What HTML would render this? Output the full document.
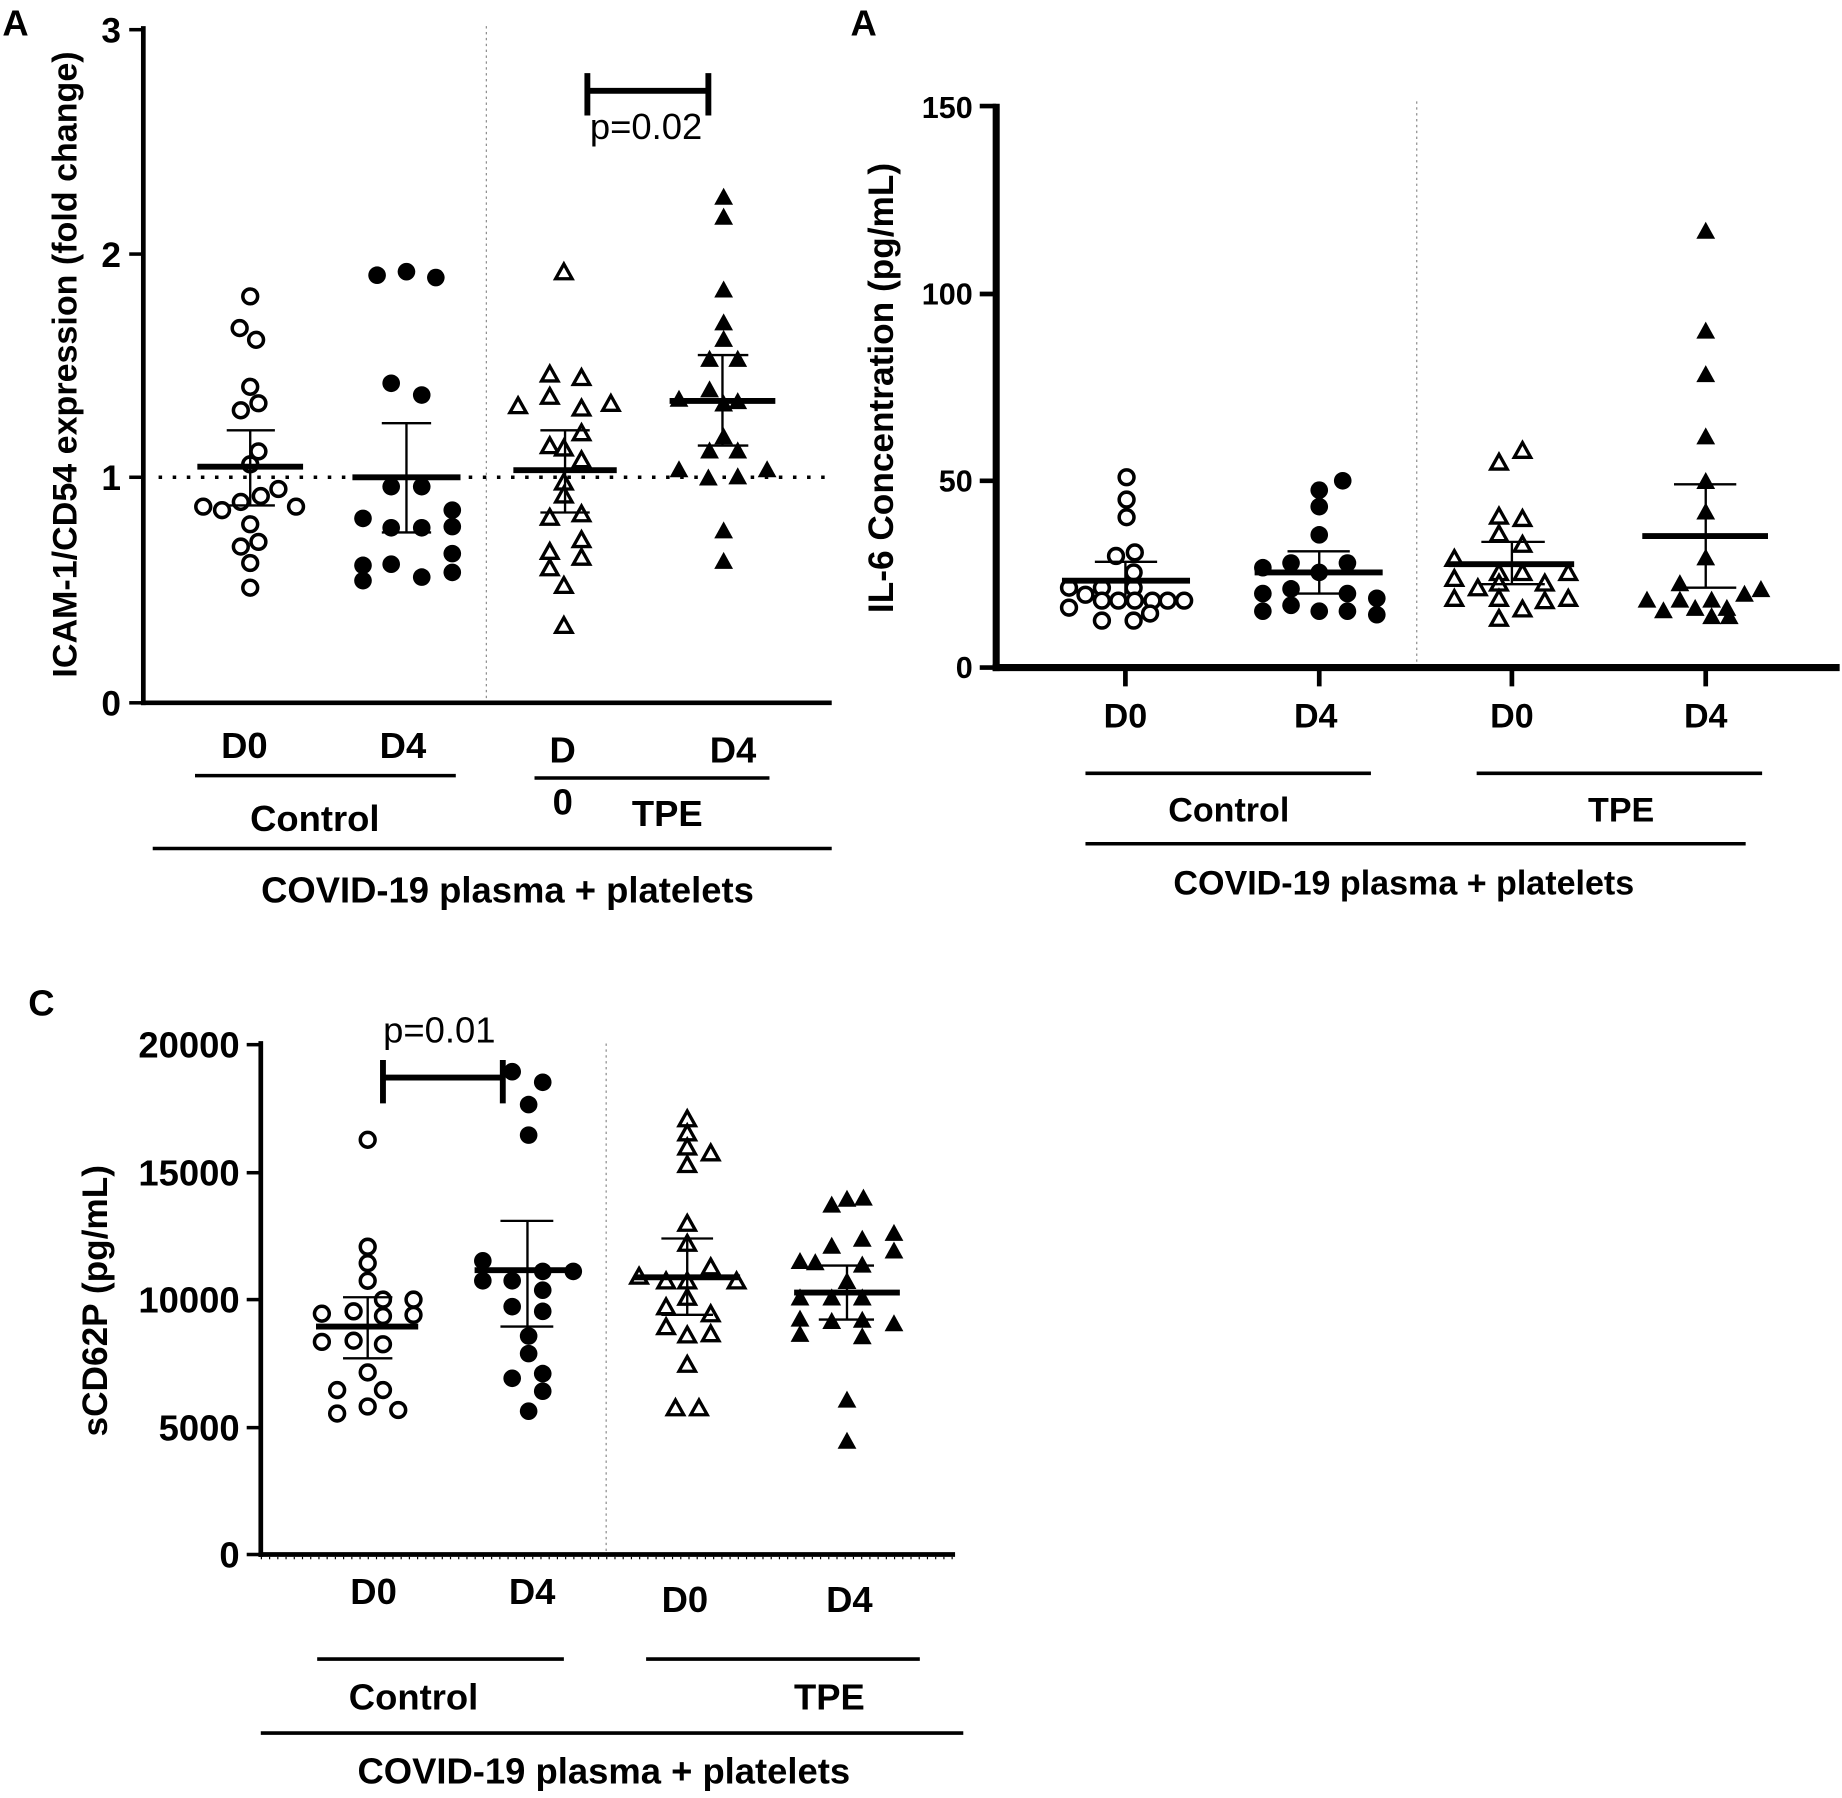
<!DOCTYPE html>
<html><head><meta charset="utf-8"><style>
html,body{margin:0;padding:0;background:#fff}
svg{display:block}
text{font-family:"Liberation Sans",sans-serif;font-weight:bold;fill:#000}
</style></head><body>
<svg width="1842" height="1798" viewBox="0 0 1568 1530" xmlns="http://www.w3.org/2000/svg">
<defs>
<g id="oc"><circle r="6.3" fill="#fff" stroke="#000" stroke-width="3"/></g>
<g id="fc"><circle r="7.5" fill="#000"/></g>
<g id="ot"><polygon points="0,-7.5 7,5 -7,5" fill="#fff" stroke="#000" stroke-width="2.8" stroke-linejoin="miter"/></g>
<g id="ft"><polygon points="0,-8.5 8,6 -8,6" fill="#000"/></g>
</defs>

<!-- ================= Panel A ================= -->
<text x="2" y="30" font-size="31">A</text>
<g stroke="#000" fill="none">
<line x1="122" y1="22" x2="122" y2="600" stroke-width="4"/>
<line x1="120" y1="598" x2="708" y2="598" stroke-width="4"/>
<line x1="110" y1="25" x2="122" y2="25" stroke-width="3"/>
<line x1="110" y1="216" x2="122" y2="216" stroke-width="3"/>
<line x1="110" y1="406" x2="122" y2="406" stroke-width="3"/>
<line x1="110" y1="598" x2="122" y2="598" stroke-width="3"/>
<line x1="414" y1="22" x2="414" y2="596" stroke-width="1" stroke="#888" stroke-dasharray="2,3"/>
<line x1="135" y1="406" x2="706" y2="406" stroke-width="3" stroke-dasharray="3,9"/>
</g>
<g font-size="30" text-anchor="end">
<text x="103" y="36">3</text><text x="103" y="227">2</text><text x="103" y="417">1</text><text x="103" y="609">0</text>
</g>
<text transform="translate(65,310) rotate(-90)" font-size="29" text-anchor="middle">ICAM-1/CD54 expression (fold change)</text>
<g stroke="#000" stroke-width="5">
<line x1="500" y1="77" x2="603" y2="77"/><line x1="500" y1="62" x2="500" y2="98"/><line x1="603" y1="62" x2="603" y2="98"/>
</g>
<text x="550" y="118" font-size="31" text-anchor="middle" style="font-weight:normal">p=0.02</text>
<g>
<use href="#oc" x="213" y="252"/><use href="#oc" x="204" y="279"/><use href="#oc" x="218" y="289"/><use href="#oc" x="213" y="329"/>
<use href="#oc" x="205" y="349"/><use href="#oc" x="220" y="343"/><use href="#oc" x="220" y="384"/><use href="#oc" x="213" y="395"/>
<use href="#oc" x="173" y="431"/><use href="#oc" x="189" y="434"/><use href="#oc" x="205" y="427"/><use href="#oc" x="222" y="422"/>
<use href="#oc" x="237" y="416"/><use href="#oc" x="252" y="431"/><use href="#oc" x="213" y="446"/><use href="#oc" x="205" y="465"/>
<use href="#oc" x="220" y="461"/><use href="#oc" x="213" y="479"/><use href="#oc" x="213" y="500"/>
<use href="#fc" x="321" y="234"/><use href="#fc" x="346" y="231"/><use href="#fc" x="371" y="236"/><use href="#fc" x="333" y="326"/>
<use href="#fc" x="359" y="336"/><use href="#fc" x="333" y="414"/><use href="#fc" x="359" y="414"/><use href="#fc" x="385" y="434"/>
<use href="#fc" x="309" y="441"/><use href="#fc" x="333" y="449"/><use href="#fc" x="359" y="449"/><use href="#fc" x="385" y="448"/>
<use href="#fc" x="385" y="471"/><use href="#fc" x="309" y="481"/><use href="#fc" x="333" y="480"/><use href="#fc" x="309" y="494"/>
<use href="#fc" x="359" y="491"/><use href="#fc" x="385" y="487"/>
<use href="#ot" x="480" y="232"/><use href="#ot" x="468" y="319"/><use href="#ot" x="495" y="322"/><use href="#ot" x="441" y="346"/>
<use href="#ot" x="468" y="338"/><use href="#ot" x="495" y="348"/><use href="#ot" x="520" y="344"/><use href="#ot" x="495" y="369"/>
<use href="#ot" x="468" y="380"/><use href="#ot" x="480" y="382"/><use href="#ot" x="495" y="392"/><use href="#ot" x="480" y="411"/>
<use href="#ot" x="480" y="422"/><use href="#ot" x="468" y="441"/><use href="#ot" x="495" y="438"/><use href="#ot" x="495" y="460"/>
<use href="#ot" x="468" y="470"/><use href="#ot" x="495" y="475"/><use href="#ot" x="468" y="484"/><use href="#ot" x="480" y="499"/>
<use href="#ot" x="480" y="533"/>
<use href="#ft" x="616" y="168"/><use href="#ft" x="616" y="185"/><use href="#ft" x="616" y="247"/><use href="#ft" x="616" y="275"/>
<use href="#ft" x="616" y="289"/><use href="#ft" x="604" y="306"/><use href="#ft" x="628" y="306"/><use href="#ft" x="604" y="332"/>
<use href="#ft" x="578" y="340"/><use href="#ft" x="628" y="342"/><use href="#ft" x="616" y="344"/><use href="#ft" x="616" y="372"/>
<use href="#ft" x="604" y="384"/><use href="#ft" x="628" y="384"/><use href="#ft" x="578" y="400"/><use href="#ft" x="603" y="407"/>
<use href="#ft" x="628" y="406"/><use href="#ft" x="653" y="400"/><use href="#ft" x="616" y="452"/><use href="#ft" x="616" y="478"/>
</g>
<g stroke="#000">
<line x1="168" y1="397" x2="258" y2="397" stroke-width="5"/><line x1="213" y1="366" x2="213" y2="430" stroke-width="2"/>
<line x1="193" y1="366" x2="234" y2="366" stroke-width="2"/><line x1="193" y1="430" x2="234" y2="430" stroke-width="2"/>
<line x1="300" y1="406" x2="392" y2="406" stroke-width="5"/><line x1="346" y1="360" x2="346" y2="453" stroke-width="2"/>
<line x1="325" y1="360" x2="367" y2="360" stroke-width="2"/><line x1="325" y1="453" x2="367" y2="453" stroke-width="2"/>
<line x1="437" y1="400" x2="525" y2="400" stroke-width="5"/><line x1="481" y1="366" x2="481" y2="436" stroke-width="2"/>
<line x1="460" y1="366" x2="502" y2="366" stroke-width="2"/><line x1="460" y1="436" x2="502" y2="436" stroke-width="2"/>
<line x1="570" y1="341" x2="660" y2="341" stroke-width="5"/><line x1="615" y1="302" x2="615" y2="379" stroke-width="2"/>
<line x1="594" y1="302" x2="637" y2="302" stroke-width="2"/><line x1="594" y1="379" x2="637" y2="379" stroke-width="2"/>
</g>
<g font-size="31" text-anchor="middle">
<text x="208" y="645">D0</text><text x="343" y="645">D4</text><text x="479" y="649">D</text><text x="479" y="693">0</text><text x="624" y="649">D4</text>
<text x="268" y="707">Control</text><text x="568" y="703">TPE</text>
<text x="432" y="768">COVID-19 plasma + platelets</text>
</g>
<g stroke="#000" stroke-width="3">
<line x1="166" y1="660" x2="388" y2="660"/><line x1="455" y1="662" x2="655" y2="662"/><line x1="130" y1="722" x2="708" y2="722"/>
</g>

<!-- ================= Panel B ================= -->
<text x="724" y="30" font-size="31">A</text>
<g stroke="#000" fill="none">
<line x1="848" y1="88" x2="848" y2="571" stroke-width="6"/>
<line x1="845" y1="568" x2="1566" y2="568" stroke-width="6"/>
<g stroke-width="4">
<line x1="834" y1="90" x2="848" y2="90"/><line x1="834" y1="250" x2="848" y2="250"/><line x1="834" y1="409" x2="848" y2="409"/><line x1="834" y1="568" x2="848" y2="568"/>
<line x1="958" y1="568" x2="958" y2="584"/><line x1="1123" y1="568" x2="1123" y2="584"/><line x1="1287" y1="568" x2="1287" y2="584"/><line x1="1452" y1="568" x2="1452" y2="584"/>
</g>
<line x1="1206" y1="86" x2="1206" y2="566" stroke-width="1" stroke="#888" stroke-dasharray="2,3"/>
</g>
<g font-size="26" text-anchor="end">
<text x="828" y="100">150</text><text x="828" y="259">100</text><text x="828" y="418">50</text><text x="828" y="577">0</text>
</g>
<text transform="translate(760,330) rotate(-90)" font-size="30" text-anchor="middle">IL-6 Concentration (pg/mL)</text>
<g>
<use href="#oc" x="959" y="406"/><use href="#oc" x="959" y="425"/><use href="#oc" x="959" y="440"/><use href="#oc" x="950" y="473"/>
<use href="#oc" x="966" y="470"/><use href="#oc" x="965" y="487"/><use href="#oc" x="910" y="500"/><use href="#oc" x="924" y="506"/>
<use href="#oc" x="938" y="500"/><use href="#oc" x="965" y="500"/><use href="#oc" x="938" y="511"/><use href="#oc" x="952" y="511"/>
<use href="#oc" x="966" y="511"/><use href="#oc" x="981" y="511"/><use href="#oc" x="994" y="511"/><use href="#oc" x="1008" y="511"/>
<use href="#oc" x="910" y="517"/><use href="#oc" x="938" y="528"/><use href="#oc" x="965" y="528"/><use href="#oc" x="979" y="522"/>
<use href="#fc" x="1123" y="417"/><use href="#fc" x="1143" y="409"/><use href="#fc" x="1123" y="431"/><use href="#fc" x="1123" y="455"/>
<use href="#fc" x="1075" y="483"/><use href="#fc" x="1099" y="479"/><use href="#fc" x="1147" y="479"/><use href="#fc" x="1123" y="487"/>
<use href="#fc" x="1075" y="505"/><use href="#fc" x="1099" y="501"/><use href="#fc" x="1147" y="505"/><use href="#fc" x="1172" y="509"/>
<use href="#fc" x="1099" y="515"/><use href="#fc" x="1075" y="520"/><use href="#fc" x="1123" y="520"/><use href="#fc" x="1147" y="520"/>
<use href="#fc" x="1172" y="523"/>
<use href="#ot" x="1296" y="384"/><use href="#ot" x="1276" y="394"/><use href="#ot" x="1276" y="440"/><use href="#ot" x="1296" y="442"/>
<use href="#ot" x="1276" y="455"/><use href="#ot" x="1296" y="464"/><use href="#ot" x="1238" y="476"/><use href="#ot" x="1238" y="493"/>
<use href="#ot" x="1276" y="488"/><use href="#ot" x="1296" y="488"/><use href="#ot" x="1335" y="488"/><use href="#ot" x="1258" y="501"/>
<use href="#ot" x="1276" y="497"/><use href="#ot" x="1315" y="497"/><use href="#ot" x="1238" y="510"/><use href="#ot" x="1276" y="510"/>
<use href="#ot" x="1296" y="519"/><use href="#ot" x="1315" y="512"/><use href="#ot" x="1335" y="510"/><use href="#ot" x="1276" y="527"/>
<use href="#ft" x="1452" y="197"/><use href="#ft" x="1452" y="282"/><use href="#ft" x="1452" y="319"/><use href="#ft" x="1452" y="372"/>
<use href="#ft" x="1452" y="410"/><use href="#ft" x="1452" y="436"/><use href="#ft" x="1452" y="475"/><use href="#ft" x="1402" y="511"/>
<use href="#ft" x="1416" y="520"/><use href="#ft" x="1430" y="511"/><use href="#ft" x="1443" y="518"/><use href="#ft" x="1457" y="511"/>
<use href="#ft" x="1470" y="518"/><use href="#ft" x="1485" y="506"/><use href="#ft" x="1499" y="502"/><use href="#ft" x="1430" y="497"/>
<use href="#ft" x="1457" y="525"/><use href="#ft" x="1472" y="525"/>
</g>
<g stroke="#000">
<line x1="904" y1="494" x2="1013" y2="494" stroke-width="5"/><line x1="958" y1="478" x2="958" y2="509" stroke-width="2"/>
<line x1="932" y1="478" x2="985" y2="478" stroke-width="2"/>
<line x1="1068" y1="487" x2="1177" y2="487" stroke-width="5"/><line x1="1123" y1="469" x2="1123" y2="505" stroke-width="2"/>
<line x1="1096" y1="469" x2="1149" y2="469" stroke-width="2"/><line x1="1096" y1="505" x2="1149" y2="505" stroke-width="2"/>
<line x1="1233" y1="480" x2="1340" y2="480" stroke-width="5"/><line x1="1287" y1="461" x2="1287" y2="497" stroke-width="2"/>
<line x1="1261" y1="461" x2="1315" y2="461" stroke-width="2"/><line x1="1261" y1="497" x2="1315" y2="497" stroke-width="2"/>
<line x1="1398" y1="456" x2="1505" y2="456" stroke-width="5"/><line x1="1452" y1="412" x2="1452" y2="500" stroke-width="2"/>
<line x1="1425" y1="412" x2="1478" y2="412" stroke-width="2"/><line x1="1425" y1="500" x2="1478" y2="500" stroke-width="2"/>
</g>
<g font-size="29" text-anchor="middle">
<text x="958" y="619">D0</text><text x="1120" y="619">D4</text><text x="1287" y="619">D0</text><text x="1452" y="619">D4</text>
<text x="1046" y="699">Control</text><text x="1380" y="699">TPE</text>
<text x="1195" y="761">COVID-19 plasma + platelets</text>
</g>
<g stroke="#000" stroke-width="3">
<line x1="924" y1="658" x2="1167" y2="658"/><line x1="1257" y1="658" x2="1500" y2="658"/><line x1="924" y1="718" x2="1486" y2="718"/>
</g>

<!-- ================= Panel C ================= -->
<text x="24" y="864" font-size="31">C</text>
<g stroke="#000" fill="none">
<line x1="222" y1="886" x2="222" y2="1325" stroke-width="4"/>
<line x1="220" y1="1323" x2="813" y2="1323" stroke-width="4"/>
<line x1="222" y1="1326" x2="813" y2="1326" stroke-width="2" stroke-dasharray="1,6"/>
<g stroke-width="3">
<line x1="210" y1="889" x2="222" y2="889"/><line x1="210" y1="998" x2="222" y2="998"/><line x1="210" y1="1106" x2="222" y2="1106"/>
<line x1="210" y1="1215" x2="222" y2="1215"/><line x1="210" y1="1323" x2="222" y2="1323"/>
</g>
<line x1="516" y1="888" x2="516" y2="1320" stroke-width="1" stroke="#888" stroke-dasharray="2,3"/>
</g>
<g font-size="31" text-anchor="end">
<text x="204" y="900">20000</text><text x="204" y="1009">15000</text><text x="204" y="1117">10000</text><text x="204" y="1226">5000</text><text x="204" y="1334">0</text>
</g>
<text transform="translate(91,1107) rotate(-90)" font-size="30" text-anchor="middle">sCD62P (pg/mL)</text>
<g stroke="#000" stroke-width="5">
<line x1="326" y1="917" x2="428" y2="917"/><line x1="326" y1="902" x2="326" y2="939"/><line x1="428" y1="902" x2="428" y2="939"/>
</g>
<text x="374" y="887" font-size="31" text-anchor="middle" style="font-weight:normal">p=0.01</text>
<g>
<use href="#oc" x="313" y="970"/><use href="#oc" x="313" y="1061"/><use href="#oc" x="313" y="1075"/><use href="#oc" x="313" y="1090"/>
<use href="#oc" x="274" y="1118"/><use href="#oc" x="301" y="1116"/><use href="#oc" x="326" y="1106"/><use href="#oc" x="326" y="1120"/>
<use href="#oc" x="352" y="1106"/><use href="#oc" x="352" y="1119"/><use href="#oc" x="274" y="1142"/><use href="#oc" x="301" y="1141"/>
<use href="#oc" x="326" y="1144"/><use href="#oc" x="313" y="1168"/><use href="#oc" x="287" y="1183"/><use href="#oc" x="326" y="1183"/>
<use href="#oc" x="313" y="1197"/><use href="#oc" x="287" y="1203"/><use href="#oc" x="339" y="1200"/>
<use href="#fc" x="436" y="912"/><use href="#fc" x="462" y="921"/><use href="#fc" x="450" y="940"/><use href="#fc" x="450" y="966"/>
<use href="#fc" x="411" y="1073"/><use href="#fc" x="411" y="1090"/><use href="#fc" x="436" y="1090"/><use href="#fc" x="462" y="1082"/>
<use href="#fc" x="488" y="1082"/><use href="#fc" x="462" y="1098"/><use href="#fc" x="436" y="1112"/><use href="#fc" x="462" y="1116"/>
<use href="#fc" x="450" y="1137"/><use href="#fc" x="450" y="1152"/><use href="#fc" x="436" y="1173"/><use href="#fc" x="462" y="1169"/>
<use href="#fc" x="462" y="1184"/><use href="#fc" x="450" y="1201"/>
<use href="#ot" x="585" y="953"/><use href="#ot" x="585" y="965"/><use href="#ot" x="585" y="977"/><use href="#ot" x="605" y="982"/>
<use href="#ot" x="585" y="992"/><use href="#ot" x="585" y="1042"/><use href="#ot" x="585" y="1059"/><use href="#ot" x="605" y="1079"/>
<use href="#ot" x="544" y="1087"/><use href="#ot" x="567" y="1091"/><use href="#ot" x="585" y="1091"/><use href="#ot" x="627" y="1091"/>
<use href="#ot" x="585" y="1105"/><use href="#ot" x="567" y="1113"/><use href="#ot" x="605" y="1119"/><use href="#ot" x="567" y="1130"/>
<use href="#ot" x="585" y="1137"/><use href="#ot" x="605" y="1136"/><use href="#ot" x="585" y="1162"/><use href="#ot" x="575" y="1199"/>
<use href="#ot" x="595" y="1199"/>
<use href="#ft" x="721" y="1021"/><use href="#ft" x="735" y="1020"/><use href="#ft" x="708" y="1026"/><use href="#ft" x="681" y="1074"/>
<use href="#ft" x="708" y="1061"/><use href="#ft" x="734" y="1055"/><use href="#ft" x="761" y="1050"/><use href="#ft" x="761" y="1065"/>
<use href="#ft" x="694" y="1075"/><use href="#ft" x="734" y="1077"/><use href="#ft" x="721" y="1091"/><use href="#ft" x="681" y="1105"/>
<use href="#ft" x="708" y="1105"/><use href="#ft" x="734" y="1105"/><use href="#ft" x="681" y="1123"/><use href="#ft" x="708" y="1125"/>
<use href="#ft" x="734" y="1124"/><use href="#ft" x="761" y="1127"/><use href="#ft" x="681" y="1136"/><use href="#ft" x="734" y="1138"/>
<use href="#ft" x="721" y="1192"/><use href="#ft" x="721" y="1227"/>
</g>
<g stroke="#000">
<line x1="269" y1="1129" x2="356" y2="1129" stroke-width="5"/><line x1="313" y1="1104" x2="313" y2="1156" stroke-width="2"/>
<line x1="292" y1="1104" x2="334" y2="1104" stroke-width="2"/><line x1="292" y1="1156" x2="334" y2="1156" stroke-width="2"/>
<line x1="404" y1="1081" x2="492" y2="1081" stroke-width="5"/><line x1="449" y1="1039" x2="449" y2="1129" stroke-width="2"/>
<line x1="426" y1="1039" x2="471" y2="1039" stroke-width="2"/><line x1="426" y1="1129" x2="471" y2="1129" stroke-width="2"/>
<line x1="540" y1="1087" x2="630" y2="1087" stroke-width="5"/><line x1="585" y1="1054" x2="585" y2="1119" stroke-width="2"/>
<line x1="563" y1="1054" x2="607" y2="1054" stroke-width="2"/><line x1="563" y1="1119" x2="607" y2="1119" stroke-width="2"/>
<line x1="676" y1="1100" x2="766" y2="1100" stroke-width="5"/><line x1="721" y1="1077" x2="721" y2="1123" stroke-width="2"/>
<line x1="697" y1="1077" x2="744" y2="1077" stroke-width="2"/><line x1="697" y1="1123" x2="744" y2="1123" stroke-width="2"/>
</g>
<g font-size="31" text-anchor="middle">
<text x="318" y="1365">D0</text><text x="453" y="1365">D4</text><text x="583" y="1372">D0</text><text x="723" y="1372">D4</text>
<text x="352" y="1455">Control</text><text x="706" y="1455">TPE</text>
<text x="514" y="1518">COVID-19 plasma + platelets</text>
</g>
<g stroke="#000" stroke-width="3">
<line x1="270" y1="1412" x2="480" y2="1412"/><line x1="550" y1="1412" x2="783" y2="1412"/><line x1="222" y1="1475" x2="820" y2="1475"/>
</g>
</svg>
</body></html>
